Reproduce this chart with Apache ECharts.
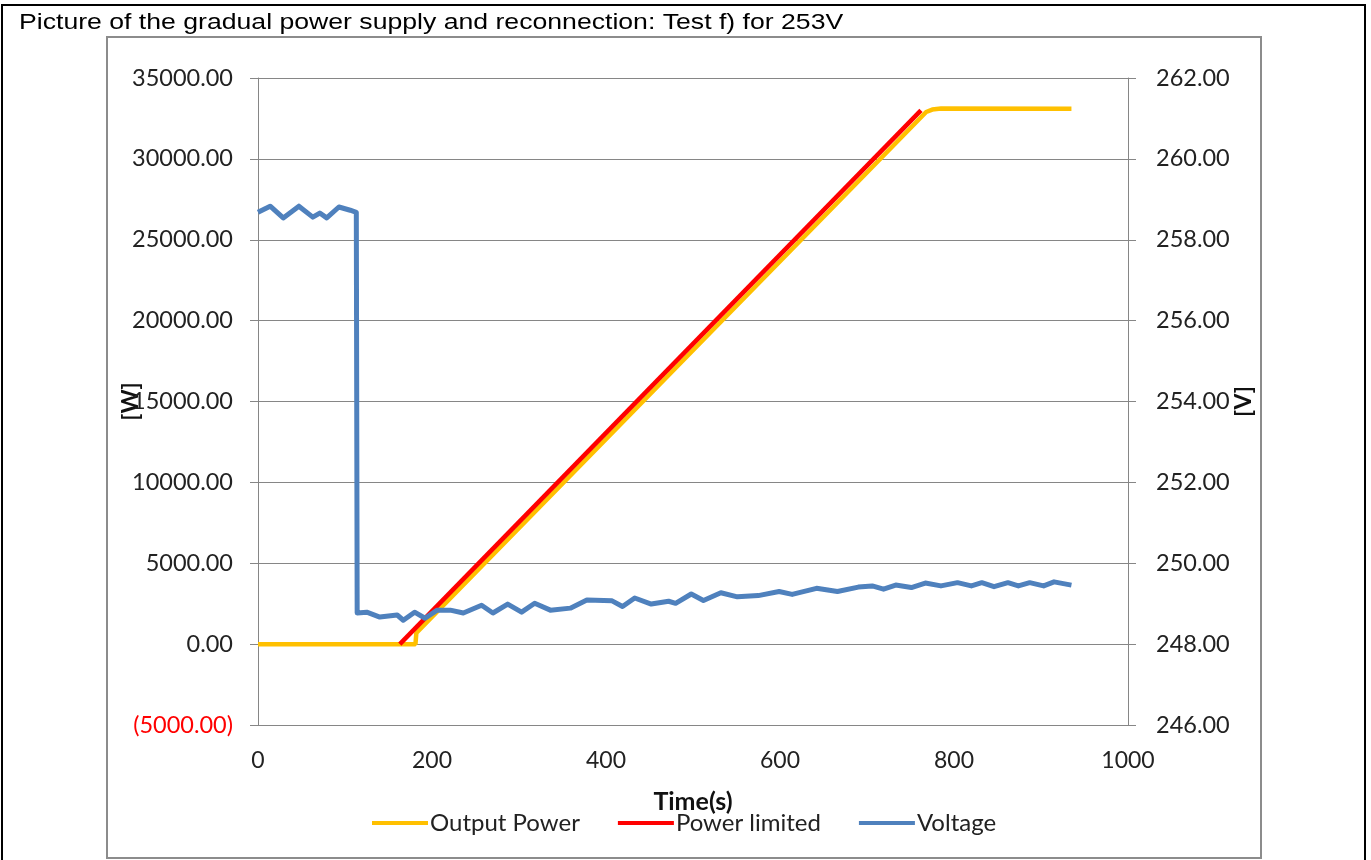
<!DOCTYPE html>
<html>
<head>
<meta charset="utf-8">
<script src="https://cdn.jsdelivr.net/npm/echarts@6/dist/echarts.min.js"></script>
<style>
  html, body { margin: 0; padding: 0; background: #fff; }
  #main { width: 1371px; height: 860px; }
</style>
</head>
<body>
<div id="main"></div>
<script>
// time axis (s) and values
const powerTime = [0, 181, 182, 768, 775, 785, 935];
const powerValues = [0, 0, 700, 32900, 33050, 33110, 33100];

const limitTime = [163, 762];
const limitValues = [0, 33000];

const voltTime = [
  0, 14, 29, 47, 63, 71, 79, 93, 106, 113,
  114, 125, 140, 160, 167, 180, 192, 206, 221, 236, 257, 270, 287, 303, 318,
  336, 359, 378, 407, 419, 433, 452, 472, 480, 498, 512, 532, 551, 575, 599,
  614, 642, 666, 690, 706, 719, 733, 751, 767, 785, 804, 820, 832, 846, 862,
  874, 887, 903, 915, 935
];
const voltValues = [
  258.68, 258.83, 258.54, 258.83, 258.56, 258.66, 258.54, 258.81, 258.73, 258.68,
  248.77, 248.79, 248.67, 248.72, 248.59, 248.79, 248.64, 248.84, 248.84, 248.77,
  248.96, 248.77, 248.99, 248.79, 249.01, 248.84, 248.89, 249.09, 249.07, 248.93,
  249.14, 248.99, 249.06, 249.01, 249.24, 249.08, 249.27, 249.17, 249.20, 249.30,
  249.23, 249.38, 249.30, 249.41, 249.44, 249.36, 249.46, 249.40, 249.51, 249.44,
  249.52, 249.44, 249.52, 249.42, 249.52, 249.44, 249.52, 249.44, 249.54, 249.46
];

const leftTicks = { min: -5000, max: 35000, interval: 5000 };
const rightTicks = { min: 246, max: 262, interval: 2 };
const timeTicks = { min: 0, max: 1000, interval: 200 };

const pairs = (xs, ys) => xs.map((x, i) => [x, ys[i]]);

const chart = echarts.init(document.getElementById("main"));

const labelFont = "Lato";
const gridColor = "#868686";

const option = {
  animation: false,
  graphic: [
    {
      type: "rect",
      shape: { x: 2, y: 5, width: 1363, height: 900 },
      style: { fill: null, stroke: "#000", lineWidth: 2 },
      silent: true,
    },
    {
      type: "rect",
      shape: { x: 107, y: 37, width: 1154, height: 821 },
      style: { fill: null, stroke: "#8c8c8c", lineWidth: 2 },
      silent: true,
    },
    {
      type: "text",
      x: 19,
      y: 12,
      scaleX: 1.21,
      silent: true,
      style: {
        text: "Picture of the gradual power supply and reconnection: Test f) for 253V",
        font: "22px 'Liberation Sans'",
        fill: "#000",
      },
    },
  ],
  legend: {
    left: 367,
    top: 806,
    icon: "rect",
    itemWidth: 56,
    itemHeight: 4,
    itemGap: 38,
    textStyle: {
      fontFamily: labelFont,
      fontSize: 24,
      color: "#222",
      padding: [0, 0, 0, -3],
    },
    data: ["Output Power", "Power limited", "Voltage"],
  },
  grid: { left: 258, right: 243, top: 78, bottom: 135 },
  xAxis: {
    type: "value",
    min: timeTicks.min,
    max: timeTicks.max,
    interval: timeTicks.interval,
    name: "Time(s)",
    nameLocation: "middle",
    nameGap: 64,
    nameTextStyle: {
      fontFamily: labelFont,
      fontWeight: "bold",
      fontSize: 25,
      color: "#111",
    },
    axisLine: { onZero: false, lineStyle: { color: gridColor } },
    axisTick: { show: false },
    splitLine: { show: false },
    axisLabel: {
      margin: 24,
      fontFamily: labelFont,
      fontSize: 23,
      color: "#222",
      formatter: (v) => String(v),
    },
  },
  yAxis: [
    {
      type: "value",
      min: leftTicks.min,
      max: leftTicks.max,
      interval: leftTicks.interval,
      name: "[W]",
      nameLocation: "middle",
      nameRotate: 90,
      nameGap: 116,
      nameMoveOverlap: false,
      nameTextStyle: {
        fontFamily: labelFont,
        fontWeight: "bold",
        fontSize: 23,
        color: "#111",
      },
      axisLine: { show: true, lineStyle: { color: gridColor } },
      axisTick: { show: true, length: 8, lineStyle: { color: gridColor } },
      splitLine: { show: true, lineStyle: { color: gridColor, width: 1 } },
      axisLabel: {
        margin: 25,
        fontFamily: labelFont,
        fontSize: 23.5,
        color: "#222",
        formatter: (v) =>
          v < 0 ? "{neg|(" + Math.abs(v).toFixed(2) + ")}" : v.toFixed(2),
        rich: {
          neg: { fontFamily: labelFont, fontSize: 23.5, color: "#ff0000" },
        },
      },
    },
    {
      type: "value",
      min: rightTicks.min,
      max: rightTicks.max,
      interval: rightTicks.interval,
      name: "[V]",
      nameLocation: "middle",
      nameRotate: 90,
      nameGap: 104,
      nameMoveOverlap: false,
      nameTextStyle: {
        fontFamily: labelFont,
        fontWeight: "bold",
        fontSize: 23,
        color: "#111",
      },
      axisLine: { show: true, lineStyle: { color: gridColor } },
      axisTick: { show: true, length: 8, lineStyle: { color: gridColor } },
      splitLine: { show: false },
      axisLabel: {
        margin: 28,
        fontFamily: labelFont,
        fontSize: 23.5,
        color: "#222",
        formatter: (v) => v.toFixed(2),
      },
    },
  ],
  series: [
    {
      name: "Output Power",
      type: "line",
      yAxisIndex: 0,
      showSymbol: false,
      lineStyle: { color: "#ffc000", width: 4.5 },
      itemStyle: { color: "#ffc000" },
      data: pairs(powerTime, powerValues),
    },
    {
      name: "Power limited",
      type: "line",
      yAxisIndex: 0,
      showSymbol: false,
      lineStyle: { color: "#ff0000", width: 4.5 },
      itemStyle: { color: "#ff0000" },
      data: pairs(limitTime, limitValues),
    },
    {
      name: "Voltage",
      type: "line",
      yAxisIndex: 1,
      showSymbol: false,
      lineStyle: { color: "#4f81bd", width: 5, join: "round" },
      itemStyle: { color: "#4f81bd" },
      data: pairs(voltTime, voltValues),
    },
  ],
};

chart.setOption(option);

window.addEventListener("resize", () => {
  chart.resize();
});
</script>
</body>
</html>
